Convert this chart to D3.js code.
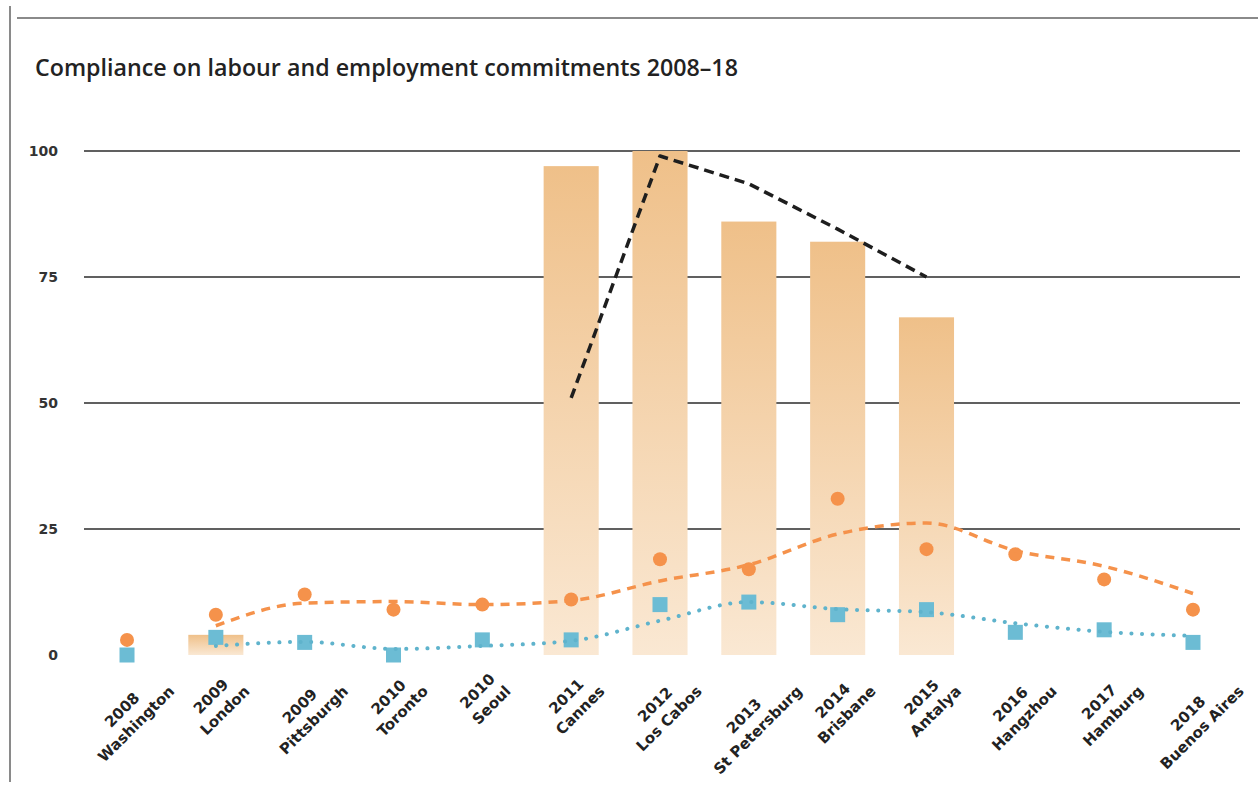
<!DOCTYPE html>
<html>
<head>
<meta charset="utf-8">
<script src="https://cdn.jsdelivr.net/npm/d3@7"></script>
<style>
  html, body { margin: 0; padding: 0; background: #fff; }
  svg { display: block; }
</style>
</head>
<body>
<svg id="chart" width="1258" height="791"></svg>
<script>
// ---- data ----
const years  = ["2008","2009","2009","2010","2010","2011","2012","2013","2014","2015","2016","2017","2018"];
const cities = ["Washington","London","Pittsburgh","Toronto","Seoul","Cannes","Los Cabos","St Petersburg","Brisbane","Antalya","Hangzhou","Hamburg","Buenos Aires"];
const barValues    = [null, 4, null, null, null, 97, 100, 86, 82, 67, null, null, null];
const blackLine    = [null, null, null, null, null, 51, 99, 93.5, 84.5, 75, null, null, null];
const orangeDots   = [3, 8, 12, 9, 10, 11, 19, 17, 31, 21, 20, 15, 9];
const blueSquares  = [0, 3.5, 2.5, 0, 3, 3, 10, 10.5, 8, 9, 4.5, 5, 2.5];
const orangeTrend  = [null, 5.8, 10.3, 10.6, 10, 10.8, 14.7, 17.9, 24, 26.2, 20.7, 17.6, 12.2];
const blueTrend    = [null, 1.8, 2.6, 1.2, 1.8, 2.8, 6.8, 10.5, 9.1, 8.5, 6.3, 4.6, 3.8];
const yTicks = [0, 25, 50, 75, 100];
const titleText = "Compliance on labour and employment commitments 2008\u201318";

// ---- layout ----
const svg = d3.select("#chart");
const keys = cities.map((c, i) => i);
const x = d3.scaleBand().domain(keys).range([82.6, 1237.4]).paddingInner(0.38).paddingOuter(0.19);
const cx = i => x(i) + x.bandwidth() / 2;
const y = d3.scaleLinear().domain([0, 100]).range([655, 151]);

const ORANGE = "#f5924b", BLUE = "#6cbcd4";

// frame lines
svg.append("line").attr("x1", 10).attr("x2", 10).attr("y1", 6).attr("y2", 782)
  .attr("stroke", "#8a8a8a").attr("stroke-width", 2);
svg.append("line").attr("x1", 17).attr("x2", 1258).attr("y1", 18).attr("y2", 18)
  .attr("stroke", "#8a8a8a").attr("stroke-width", 2);

// title
const title = svg.append("text").attr("x", 35).attr("y", 76)
  .attr("font-family", "'Open Sans', sans-serif").attr("font-weight", 600)
  .attr("font-size", 20).attr("fill", "#222").text(titleText);
const tw = title.node().getComputedTextLength();
title.attr("font-size", 20 * 703 / tw);

// gradient
const defs = svg.append("defs");
const grad = defs.append("linearGradient").attr("id", "barGrad")
  .attr("x1", 0).attr("y1", 0).attr("x2", 0).attr("y2", 1);
grad.append("stop").attr("offset", "0%").attr("stop-color", "#efc089");
grad.append("stop").attr("offset", "100%").attr("stop-color", "#fae8d3");

// y axis gridlines (no line at 0)
const yAxis = d3.axisLeft(y).tickValues(yTicks).tickSize(0).tickPadding(0);
const gy = svg.append("g").attr("transform", "translate(58,0)").call(yAxis);
gy.select(".domain").remove();
gy.selectAll("text").attr("font-family", "'DejaVu Sans', sans-serif").attr("font-weight", "bold")
  .attr("font-size", 14).attr("fill", "#333").attr("dy", "0.35em");
svg.append("g").selectAll("line").data(yTicks.filter(t => t > 0)).join("line")
  .attr("x1", 84).attr("x2", 1240).attr("y1", d => y(d)).attr("y2", d => y(d))
  .attr("stroke", "#2b2b2b").attr("stroke-width", 1.5);

// bars
svg.append("g").selectAll("rect").data(keys.filter(i => barValues[i] != null)).join("rect")
  .attr("x", i => x(i)).attr("width", x.bandwidth())
  .attr("y", i => y(barValues[i])).attr("height", i => y(0) - y(barValues[i]))
  .attr("fill", "url(#barGrad)");

// markers
svg.append("g").selectAll("rect").data(keys).join("rect")
  .attr("x", i => cx(i) - 7.5).attr("y", i => y(blueSquares[i]) - 7.5)
  .attr("width", 15).attr("height", 15).attr("fill", BLUE);
svg.append("g").selectAll("circle").data(keys).join("circle")
  .attr("cx", i => cx(i)).attr("cy", i => y(orangeDots[i])).attr("r", 7).attr("fill", ORANGE);

// trend lines
const toPts = arr => keys.map(i => ({ i, v: arr[i] })).filter(d => d.v != null);
const smooth = d3.line().x(d => cx(d.i)).y(d => y(d.v)).curve(d3.curveMonotoneX);
const straight = d3.line().x(d => cx(d.i)).y(d => y(d.v));

svg.append("path").datum(toPts(orangeTrend)).attr("d", smooth)
  .attr("fill", "none").attr("stroke", ORANGE).attr("stroke-width", 3.5).attr("stroke-dasharray", "9,7");
svg.append("path").datum(toPts(blueTrend)).attr("d", smooth)
  .attr("fill", "none").attr("stroke", "#5fb3cc").attr("stroke-width", 4)
  .attr("stroke-linecap", "round").attr("stroke-dasharray", "0.1,10.5");
svg.append("path").datum(toPts(blackLine)).attr("d", straight)
  .attr("fill", "none").attr("stroke", "#1e1e1e").attr("stroke-width", 3.5)
  .attr("stroke-linejoin", "round").attr("stroke-dasharray", "10,6");

// x labels: two centred lines, rotated block hanging from a fixed top edge
const gx = svg.append("g");
const LH = 19.8, BLOCK_H = 35, TOP = 669;
keys.forEach(i => {
  const g = gx.append("g");
  const t = g.append("text")
    .attr("text-anchor", "middle")
    .attr("font-family", "'DejaVu Sans', sans-serif").attr("font-weight", "bold")
    .attr("font-size", 15).attr("fill", "#222");
  const s1 = t.append("tspan").attr("x", 0).attr("y", -LH / 2).attr("dy", "0.35em").text(years[i]);
  const s2 = t.append("tspan").attr("x", 0).attr("y", LH / 2).attr("dy", "0.35em").text(cities[i]);
  const W = Math.max(s1.node().getComputedTextLength(), s2.node().getComputedTextLength());
  const cyBlock = TOP + Math.SQRT1_2 * (W + BLOCK_H) / 2;
  g.attr("transform", `translate(${cx(i) + 2},${cyBlock}) rotate(-45)`);
});
</script>
</body>
</html>
